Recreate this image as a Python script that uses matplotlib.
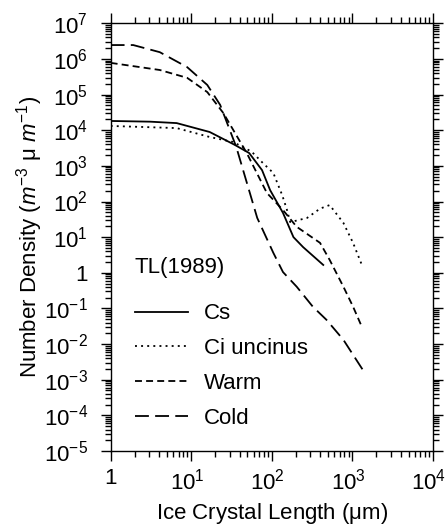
import matplotlib
matplotlib.use("Agg")
import matplotlib.pyplot as plt
import matplotlib.transforms as mtransforms
import numpy as np
from matplotlib.ticker import LogLocator, FixedLocator, NullFormatter

plt.rcParams['font.family'] = ['Liberation Sans', 'DejaVu Sans']
plt.rcParams['mathtext.fontset'] = 'custom'
plt.rcParams['mathtext.rm'] = 'Liberation Sans'
plt.rcParams['mathtext.it'] = 'Liberation Sans:italic'
plt.rcParams['mathtext.bf'] = 'Liberation Sans:bold'
plt.rcParams['lines.scale_dashes'] = False

# ---- data (log10 of length in um, log10 of number density) ----
cs_logL = [0.0, 0.49, 0.82, 1.23, 1.54, 1.72, 1.88, 1.98, 2.14, 2.27, 2.39, 2.64]
cs_logN = [4.26, 4.24, 4.20, 3.95, 3.59, 3.36, 2.88, 2.32, 1.68, 1.00, 0.72, 0.22]

ci_logL = [0.0, 0.82, 1.23, 1.52, 1.75, 1.89, 2.02, 2.13, 2.19, 2.23, 2.44, 2.60, 2.72, 2.89, 3.01, 3.13]
ci_logN = [4.12, 4.06, 3.81, 3.67, 3.40, 3.08, 2.80, 2.18, 1.76, 1.42, 1.54, 1.80, 1.90, 1.40, 0.84, 0.16]

warm_logL = [0.0, 0.61, 0.95, 1.20, 1.40, 1.69, 1.94, 2.14, 2.31, 2.60, 2.72, 2.89, 3.01, 3.12]
warm_logN = [5.89, 5.69, 5.47, 5.07, 4.48, 3.36, 2.24, 1.76, 1.29, 0.84, 0.36, -0.39, -0.95, -1.52]

cold_logL = [0.0, 0.28, 0.61, 0.95, 1.20, 1.36, 1.56, 1.82, 2.02, 2.14, 2.31, 2.51, 2.68, 2.89, 3.13]
cold_logN = [6.39, 6.39, 6.19, 5.77, 5.27, 4.71, 3.53, 1.54, 0.56, 0.02, -0.39, -0.95, -1.32, -1.88, -2.72]

series_names = ['Cs', 'Ci uncinus', 'Warm', 'Cold']
legend_title = 'TL(1989)'
x_ticklabels = ['1', r'$10^{1}$', r'$10^{2}$', r'$10^{3}$', r'$10^{4}$']
y_ticklabels = [r'$10^{-5}$', r'$10^{-4}$', r'$10^{-3}$', r'$10^{-2}$', r'$10^{-1}$', '1',
                r'$10^{1}$', r'$10^{2}$', r'$10^{3}$', r'$10^{4}$', r'$10^{5}$', r'$10^{6}$', r'$10^{7}$']

FS = 16

fig = plt.figure(figsize=(4.48, 5.25), dpi=100)
ax = fig.add_axes([0.247, 0.141, 0.719, 0.8146])

def pw(a):
    return 10 ** np.asarray(a)

lw = 1.3
ax.plot(pw(cs_logL), pw(cs_logN), color='black', lw=lw, linestyle='-', label=series_names[0])
ax.plot(pw(ci_logL), pw(ci_logN), color='black', lw=lw, linestyle=(0, (1.4, 3.0)), label=series_names[1])
ax.plot(pw(warm_logL), pw(warm_logN), color='black', lw=lw, linestyle=(0, (5.0, 3.0)), label=series_names[2])
ax.plot(pw(cold_logL), pw(cold_logN), color='black', lw=lw, linestyle=(0, (10.0, 4.5)), label=series_names[3])

ax.set_xscale('log')
ax.set_yscale('log')
ax.set_xlim(1, 1e4)
ax.set_ylim(1e-5, 1e7)

ax.xaxis.set_major_locator(FixedLocator([1, 1e1, 1e2, 1e3, 1e4]))
ax.set_xticklabels(x_ticklabels)
ax.yaxis.set_major_locator(FixedLocator([10.0 ** k for k in range(-5, 8)]))
ax.set_yticklabels(y_ticklabels)
ax.xaxis.set_minor_locator(LogLocator(base=10, subs=np.arange(2, 10), numticks=20))
ax.yaxis.set_minor_locator(LogLocator(base=10, subs=np.arange(2, 10), numticks=30))
ax.xaxis.set_minor_formatter(NullFormatter())
ax.yaxis.set_minor_formatter(NullFormatter())

ax.tick_params(which='both', direction='out', top=True, right=True, width=1.0, labelsize=FS, colors='black')
ax.tick_params(which='major', length=7.5)
ax.tick_params(axis='y', which='major', pad=9)
ax.tick_params(axis='x', which='major', pad=5)
ax.tick_params(which='minor', length=4)
for s in ax.spines.values():
    s.set_linewidth(1.0)

# shift superscripted x tick labels slightly left, as in the reference
shift = mtransforms.ScaledTranslation(-4 / 100, 0, fig.dpi_scale_trans)
for lab in ax.get_xticklabels()[1:]:
    lab.set_transform(lab.get_transform() + shift)

ax.set_xlabel(r'Ice Crystal Length ($\mathrm{\mu}$m)', fontsize=FS, labelpad=5)
ax.set_ylabel(r'Number Density ($m^{-3}$ $\mathrm{\mu}$ $m^{-1}$)', fontsize=FS, labelpad=-1)

ax.text(0.075, 0.43, legend_title, transform=ax.transAxes, fontsize=FS, ha='left', va='center')
leg = ax.legend(loc='upper left', bbox_to_anchor=(0.075, 0.345),
                frameon=False, fontsize=FS, handlelength=2.4,
                handletextpad=0.7, labelspacing=0.62, borderpad=0.0, borderaxespad=0.0)
for line in leg.get_lines():
    line.set_linewidth(lw)

fig.savefig('out.png', dpi=100)
